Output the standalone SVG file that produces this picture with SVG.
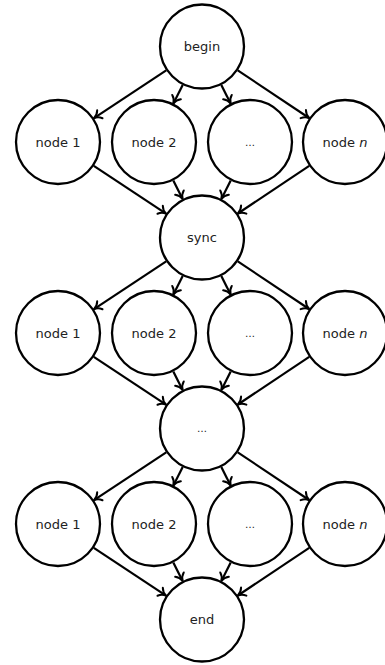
<svg xmlns="http://www.w3.org/2000/svg" width="385" height="665" viewBox="0 0 385 665">
  <style>
    .node circle { fill: #fff; stroke: #000; stroke-width: 2.3; }
    .node text { font-family: "DejaVu Sans", "Liberation Sans", sans-serif; font-size: 13px; fill: #222; text-anchor: middle; }
    .node text.dots { font-size: 10px; }
    .edges line { stroke: #000; stroke-width: 2.2; marker-end: url(#arrow); }
  </style>
  <defs>
    <marker id="arrow" markerUnits="userSpaceOnUse" markerWidth="14" markerHeight="14" viewBox="-10 -7 14 14" refX="0" refY="0" orient="auto" overflow="visible">
      <path d="M-7,-4.8 C-5,-1.8 -2,-0.4 0,0 C-2,0.4 -5,1.8 -7,4.8" fill="none" stroke="#000" stroke-width="2" stroke-linecap="round" stroke-linejoin="round"/>
    </marker>
  </defs>

  <!-- connectors: each tier fans out from a hub and fans back in to the next hub -->
  <g id="edges" class="edges">
    <g transform="translate(0,46.5)">
      <line x1="166.2" y1="23.8" x2="94.0" y2="71.6"/>
      <line x1="182.7" y1="38.4" x2="173.4" y2="56.9"/>
      <line x1="221.3" y1="38.4" x2="230.6" y2="56.9"/>
      <line x1="237.8" y1="23.9" x2="309.1" y2="71.5"/>
    </g>
    <g transform="translate(0,142)">
      <line x1="93.8" y1="23.8" x2="166.0" y2="71.6"/>
      <line x1="173.3" y1="38.4" x2="182.6" y2="56.9"/>
      <line x1="230.7" y1="38.4" x2="221.4" y2="56.9"/>
      <line x1="309.2" y1="23.9" x2="237.9" y2="71.5"/>
    </g>
    <g transform="translate(0,237.5)">
      <line x1="166.2" y1="23.8" x2="94.0" y2="71.6"/>
      <line x1="182.7" y1="38.4" x2="173.4" y2="56.9"/>
      <line x1="221.3" y1="38.4" x2="230.6" y2="56.9"/>
      <line x1="237.8" y1="23.9" x2="309.1" y2="71.5"/>
    </g>
    <g transform="translate(0,333)">
      <line x1="93.8" y1="23.8" x2="166.0" y2="71.6"/>
      <line x1="173.3" y1="38.4" x2="182.6" y2="56.9"/>
      <line x1="230.7" y1="38.4" x2="221.4" y2="56.9"/>
      <line x1="309.2" y1="23.9" x2="237.9" y2="71.5"/>
    </g>
    <g transform="translate(0,428.5)">
      <line x1="166.2" y1="23.8" x2="94.0" y2="71.6"/>
      <line x1="182.7" y1="38.4" x2="173.4" y2="56.9"/>
      <line x1="221.3" y1="38.4" x2="230.6" y2="56.9"/>
      <line x1="237.8" y1="23.9" x2="309.1" y2="71.5"/>
    </g>
    <g transform="translate(0,524)">
      <line x1="93.8" y1="23.8" x2="166.0" y2="71.6"/>
      <line x1="173.3" y1="38.4" x2="182.6" y2="56.9"/>
      <line x1="230.7" y1="38.4" x2="221.4" y2="56.9"/>
      <line x1="309.2" y1="23.9" x2="237.9" y2="71.5"/>
    </g>
  </g>

  <!-- hubs -->
  <g id="begin" class="node"><circle cx="202" cy="46.5" r="42"/><text x="202" y="51">begin</text></g>
  <g id="sync" class="node"><circle cx="202" cy="237.5" r="42"/><text x="202" y="242">sync</text></g>
  <g id="hub-dots" class="node"><circle cx="202" cy="428.5" r="42"/><text class="dots" x="202" y="432">…</text></g>
  <g id="end" class="node"><circle cx="202" cy="619.5" r="42"/><text x="202" y="624">end</text></g>

  <!-- tier 1 -->
  <g id="t1-node1" class="node"><circle cx="58" cy="142" r="42"/><text x="58" y="146.5">node 1</text></g>
  <g id="t1-node2" class="node"><circle cx="154" cy="142" r="42"/><text x="154" y="146.5">node 2</text></g>
  <g id="t1-dots" class="node"><circle cx="250" cy="142" r="42"/><text class="dots" x="250" y="145.5">…</text></g>
  <g id="t1-noden" class="node"><circle cx="345" cy="142" r="42"/><text x="345" y="146.5">node <tspan font-style="italic">n</tspan></text></g>

  <!-- tier 2 -->
  <g id="t2-node1" class="node"><circle cx="58" cy="333" r="42"/><text x="58" y="337.5">node 1</text></g>
  <g id="t2-node2" class="node"><circle cx="154" cy="333" r="42"/><text x="154" y="337.5">node 2</text></g>
  <g id="t2-dots" class="node"><circle cx="250" cy="333" r="42"/><text class="dots" x="250" y="336.5">…</text></g>
  <g id="t2-noden" class="node"><circle cx="345" cy="333" r="42"/><text x="345" y="337.5">node <tspan font-style="italic">n</tspan></text></g>

  <!-- tier 3 -->
  <g id="t3-node1" class="node"><circle cx="58" cy="524" r="42"/><text x="58" y="528.5">node 1</text></g>
  <g id="t3-node2" class="node"><circle cx="154" cy="524" r="42"/><text x="154" y="528.5">node 2</text></g>
  <g id="t3-dots" class="node"><circle cx="250" cy="524" r="42"/><text class="dots" x="250" y="527.5">…</text></g>
  <g id="t3-noden" class="node"><circle cx="345" cy="524" r="42"/><text x="345" y="528.5">node <tspan font-style="italic">n</tspan></text></g>
</svg>
